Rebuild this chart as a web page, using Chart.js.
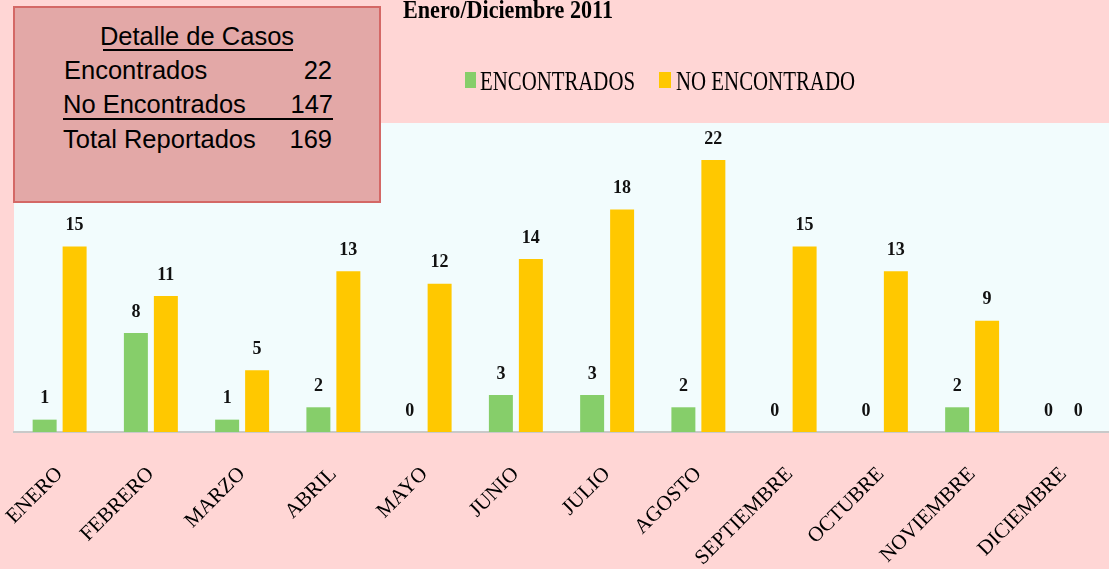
<!DOCTYPE html>
<html><head><meta charset="utf-8">
<script src="https://cdn.jsdelivr.net/npm/chart.js@4.4.0/dist/chart.umd.min.js"></script>
<style>
html,body{margin:0;padding:0;background:#FFD6D5;}
#wrap{position:relative;width:1109px;height:569px;overflow:hidden;background:#FFD6D5;}
canvas{position:absolute;left:0;top:0;}
#box{position:absolute;left:13px;top:6px;width:364px;height:193px;background:#E3A8A7;border:2px solid #D46866;font-family:"Liberation Sans",Arial,sans-serif;font-size:25.5px;color:#000;}
.t{position:absolute;white-space:nowrap;line-height:24px;}
.ln{position:absolute;height:2px;background:#000;}
</style></head>
<body>
<div id="wrap">
<canvas id="c" width="1109" height="569"></canvas>
<div id="box">
  <div class="t" id="bt" style="left:0;width:364px;text-align:center;top:15.9px;"></div>
  <div class="ln" style="left:88px;top:41px;width:190px;"></div>
  <div class="t" id="r1l" style="left:49px;top:49.9px;"></div>
  <div class="t" id="r1v" style="right:47px;top:49.9px;text-align:right;"></div>
  <div class="t" id="r2l" style="left:48px;top:83.9px;"></div>
  <div class="t" id="r2v" style="right:46px;top:83.9px;text-align:right;"></div>
  <div class="ln" style="left:48px;top:109.5px;width:270px;"></div>
  <div class="t" id="r3l" style="left:48px;top:118.9px;"></div>
  <div class="t" id="r3v" style="right:47px;top:118.9px;text-align:right;"></div>
</div>
</div>
<script>
const categories = ['ENERO','FEBRERO','MARZO','ABRIL','MAYO','JUNIO','JULIO','AGOSTO','SEPTIEMBRE','OCTUBRE','NOVIEMBRE','DICIEMBRE'];
const encontrados = [1,8,1,2,0,3,3,2,0,0,2,0];
const noEncontrados = [15,11,5,13,12,14,18,22,15,13,9,0];
const seriesNames = ['ENCONTRADOS','NO ENCONTRADO'];
const chartTitle = 'Enero/Diciembre 2011';
const boxTitle = 'Detalle de Casos';
const boxLabels = ['Encontrados','No Encontrados','Total Reportados'];
const boxValues = [22,147,169];
const yMax = 25;

document.getElementById('bt').textContent = boxTitle;
document.getElementById('r1l').textContent = boxLabels[0];
document.getElementById('r2l').textContent = boxLabels[1];
document.getElementById('r3l').textContent = boxLabels[2];
document.getElementById('r1v').textContent = boxValues[0];
document.getElementById('r2v').textContent = boxValues[1];
document.getElementById('r3v').textContent = boxValues[2];

const GREEN = '#86CE6A', YELLOW = '#FFC800';

const bgPlugin = {
  id:'bg',
  beforeDraw(chart){
    const {ctx, chartArea:a} = chart;
    ctx.save();
    ctx.fillStyle = '#FFD6D5';
    ctx.fillRect(0,0,chart.width,chart.height);
    ctx.fillStyle = '#F2FCFD';
    ctx.fillRect(a.left, a.top, chart.width - a.left, a.bottom - a.top);
    ctx.restore();
  }
};

function condensedText(ctx, text, x, y, font, targetW){
  ctx.save();
  ctx.font = font;
  const w = ctx.measureText(text).width;
  ctx.translate(x, y);
  ctx.scale(targetW / w, 1);
  ctx.textAlign = 'left';
  ctx.textBaseline = 'alphabetic';
  ctx.fillText(text, 0, 0);
  ctx.restore();
}

const labelPlugin = {
  id:'vlabels',
  afterDatasetsDraw(chart){
    const ctx = chart.ctx;
    ctx.save();
    ctx.fillStyle = '#111';
    ctx.font = 'bold 18px "Liberation Serif"';
    ctx.textAlign = 'center';
    ctx.textBaseline = 'middle';
    chart.data.datasets.forEach((ds, i) => {
      const meta = chart.getDatasetMeta(i);
      meta.data.forEach((el, j) => {
        ctx.fillText(String(ds.data[j]), el.x, el.y - 21);
      });
    });
    ctx.restore();
  }
};

const legendPlugin = {
  id:'customLegend',
  afterDraw(chart){
    const ctx = chart.ctx;
    ctx.save();
    ctx.fillStyle = '#000';
    condensedText(ctx, chartTitle, 403, 18, 'bold 26px "Liberation Serif"', 210);
    ctx.fillStyle = GREEN;
    ctx.fillRect(465, 72, 11, 16);
    ctx.fillStyle = YELLOW;
    ctx.fillRect(659, 72, 12, 16);
    ctx.fillStyle = '#000';
    condensedText(ctx, seriesNames[0], 480, 90, '27px "Liberation Serif"', 155);
    condensedText(ctx, seriesNames[1], 676, 90, '27px "Liberation Serif"', 179);
    ctx.restore();
  }
};

new Chart(document.getElementById('c'), {
  type:'bar',
  data:{
    labels:categories,
    datasets:[
      {label:seriesNames[0], data:encontrados, backgroundColor:GREEN},
      {label:seriesNames[1], data:noEncontrados, backgroundColor:YELLOW}
    ]
  },
  options:{
    responsive:false, animation:false, devicePixelRatio:1,
    layout:{padding:{top:123,left:14,right:0,bottom:0}},
    plugins:{legend:{display:false}, title:{display:false}, tooltip:{enabled:false}},
    datasets:{bar:{categoryPercentage:0.657, barPercentage:0.8}},
    scales:{
      x:{
        grid:{display:false, drawTicks:false},
        border:{display:true, color:'#C9C9C9', width:2},
        ticks:{maxRotation:45, minRotation:45, autoSkip:false, padding:30, color:'#000', font:{family:'"Liberation Serif"', size:21}},
        afterFit(s){ s.height = 137; s.paddingLeft = 0; s.paddingRight = 0; }
      },
      y:{display:false, min:0, max:yMax}
    }
  },
  plugins:[bgPlugin, labelPlugin, legendPlugin]
});
</script>
</body></html>
